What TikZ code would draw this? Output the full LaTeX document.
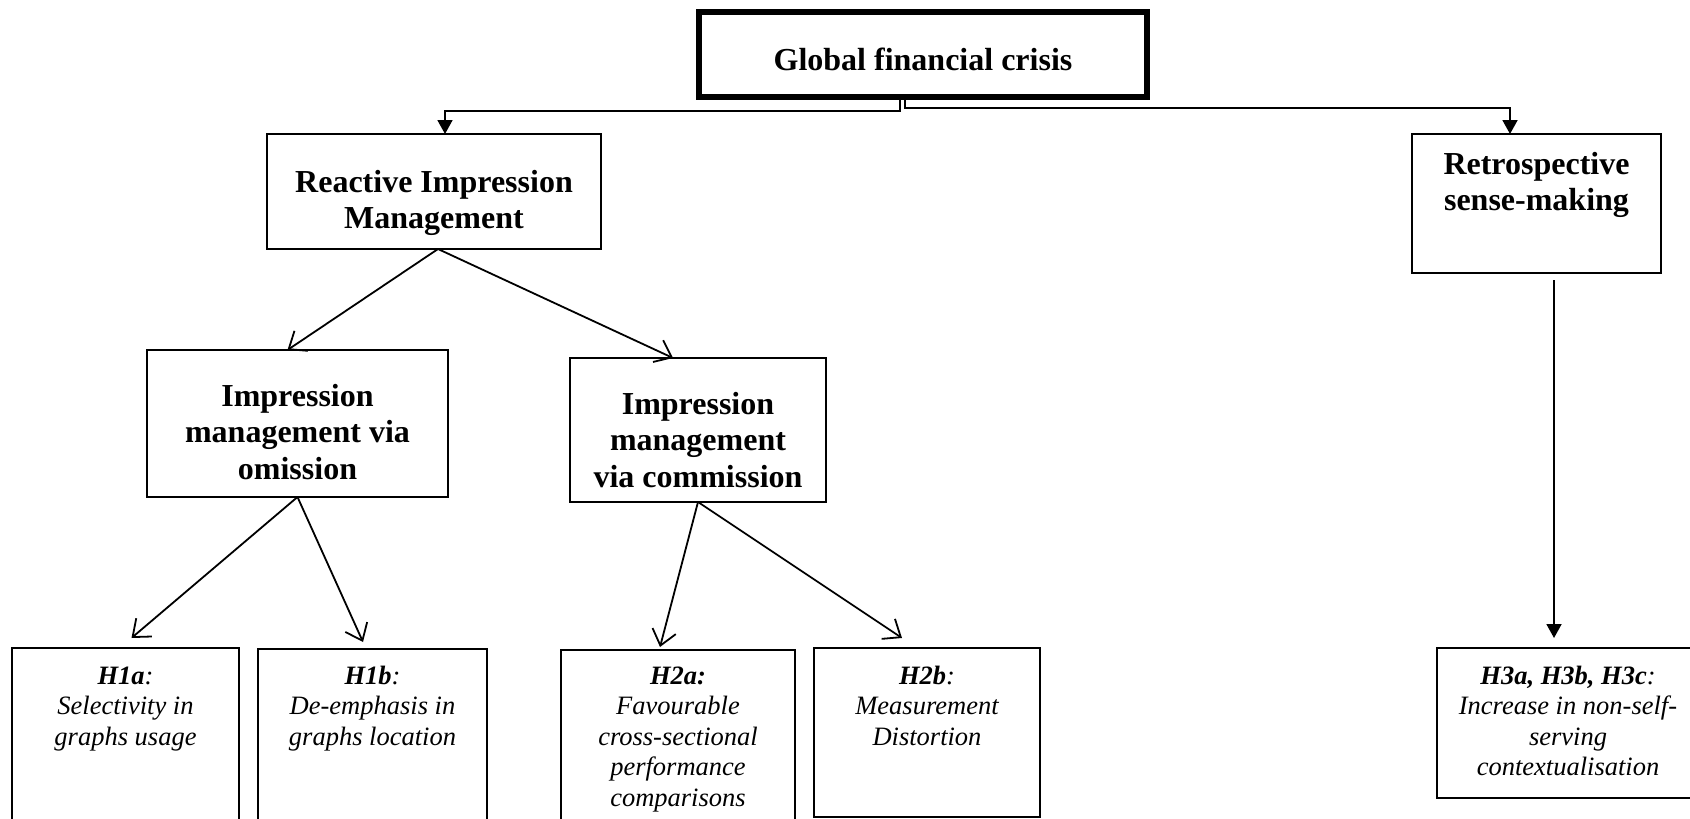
\documentclass[tikz,border=0pt]{standalone}
\usepackage{fontspec}
\setmainfont{Liberation Serif}
\usetikzlibrary{arrows.meta}
\tikzset{
  box/.style={draw, line width=1.8pt, rectangle, inner sep=0pt, outer sep=0pt},
  thickbox/.style={box, line width=5.5pt},
  blabel/.style={anchor=base, align=center, inner sep=0pt,
    font=\fontsize{32}{36.5}\selectfont\bfseries},
  ilabel/.style={anchor=base, align=center, inner sep=0pt,
    font=\fontsize{26.5}{30.5}\selectfont\itshape},
  farrow/.style={line width=1.8pt, -{Triangle[length=14pt,width=15pt]}},
  oarrow/.style={line width=1.8pt, -{Straight Barb[length=15pt,width=24pt,line width=1.8pt]}},
}
\begin{document}
\begin{tikzpicture}[x=1pt,y=-1pt]
\useasboundingbox (0,0) rectangle (1690,819);
\clip (0,0) rectangle (1690,819);
\fill[white] (0,0) rectangle (1690,819);

% boxes
\node[thickbox, minimum width=448pt, minimum height=85pt] (gfc) at (923,54.5) {};
\node[box, minimum width=334pt, minimum height=115pt] (rim) at (434,191.5) {};
\node[box, minimum width=301pt, minimum height=147pt] (om) at (297.5,423.5) {};
\node[box, minimum width=256pt, minimum height=144pt] (com) at (698,430) {};
\node[box, minimum width=249pt, minimum height=139pt] (rsm) at (1536.5,203.5) {};
\node[box, minimum width=227pt, minimum height=202pt] (h1a) at (125.5,749) {};
\node[box, minimum width=229pt, minimum height=201pt] (h1b) at (372.5,749.5) {};
\node[box, minimum width=234pt, minimum height=200pt] (h2a) at (678,750) {};
\node[box, minimum width=226pt, minimum height=169pt] (h2b) at (927,732.5) {};
\node[box, minimum width=262pt, minimum height=150pt] (h3) at (1568,723) {};

% labels (anchor=base is the baseline of the last line)
\node[blabel] (tgfc) at (923,70) {Global financial crisis};
\node[blabel] (trim) at (434,228.5) {Reactive Impression\\Management};
\node[blabel] (tom) at (297.5,479) {Impression\\management via\\omission};
\node[blabel] (tcom) at (698,487) {Impression\\management\\via commission};
\node[blabel] (trsm) at (1536.5,210.5) {Retrospective\\sense-making};
\node[ilabel] (th1a) at (125.5,745) {\textbf{H1a}:\\Selectivity in\\graphs usage};
\node[ilabel] (th1b) at (372.5,745) {\textbf{H1b}:\\De-emphasis in\\graphs location};
\node[ilabel] (th2a) at (678,806) {\textbf{H2a:}\\Favourable\\cross-sectional\\performance\\comparisons};
\node[ilabel] (th2b) at (927,745) {\textbf{H2b}:\\Measurement\\Distortion};
\node[ilabel] (th3) at (1568,775.5) {\textbf{H3a, H3b, H3c}:\\Increase in non-self-\\serving\\contextualisation};

% connectors
\draw[farrow] ([xshift=-23pt]gfc.south) -- ++(0,14) -| ([xshift=11pt]rim.north);
\draw[farrow] ([xshift=-18pt]gfc.south) -- ++(0,11) -| ([xshift=-26.5pt]rsm.north);

\draw[oarrow] ([xshift=4pt]rim.south) -- ([xshift=-10pt]om.north);
\draw[oarrow] ([xshift=4pt]rim.south) -- ([xshift=-25pt]com.north);

\draw[oarrow] (om.south) -- ([shift={(6pt,10pt)}]h1a.north);
\draw[oarrow] (om.south) -- ([shift={(-9.5pt,7pt)}]h1b.north);

\draw[oarrow] (com.south) -- ([shift={(-18pt,3pt)}]h2a.north);
\draw[oarrow] (com.south) -- ([shift={(-25pt,10pt)}]h2b.north);

\draw[farrow] ([shift={(17.5pt,-7pt)}]rsm.south) -- ([shift={(-14pt,10pt)}]h3.north);
\end{tikzpicture}
\end{document}
